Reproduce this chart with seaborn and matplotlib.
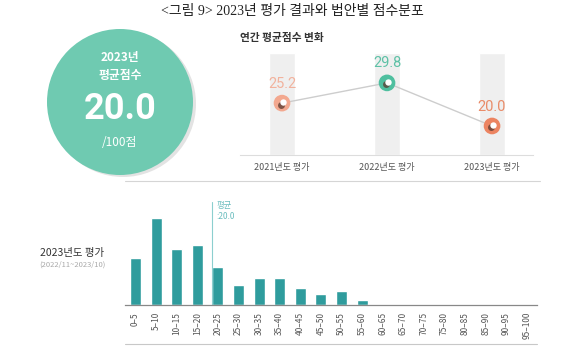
import matplotlib
matplotlib.use('Agg')
import matplotlib.pyplot as plt
import matplotlib.transforms as mtransforms
from matplotlib.patches import Ellipse
from matplotlib.lines import Line2D
import seaborn as sns
import pandas as pd

# data
years = ['2021년도 평가', '2022년도 평가', '2023년도 평가']
avg_scores = [25.2, 29.8, 20.0]
point_colors = ['#F3A88F', '#4FBF9F', '#EC8461']
label_colors = ['#F2B29D', '#5EC1A6', '#E98B68']

score_bins = ['0–5', '5–10', '10–15', '15–20', '20–25', '25–30', '30–35',
              '35–40', '40–45', '45–50', '50–55', '55–60', '60–65', '65–70',
              '70–75', '75–80', '80–85', '85–90', '90–95', '95–100']
# relative bar heights (no axis in the original)
bin_heights = [47, 87, 56, 60, 38, 20, 27, 27, 17, 11, 14, 5,
               0, 0, 0, 0, 0, 0, 0, 0]
mean_score = 20.0

sns.set_theme(style='white')
plt.rcParams['font.family'] = ['Noto Sans CJK KR', 'DejaVu Sans']

W, H = 580, 352
fig = plt.figure(figsize=(W / 100, H / 100), dpi=100)


def fx(x):
    return x / W


def fy(y):
    return 1 - y / H


# title
fig.text(fx(292), fy(12), '<그림 9> 2023년 평가 결과와 법안별 점수분포',
         ha='center', va='center', fontsize=10, color='#222',
         family=['Liberation Serif', 'Noto Sans CJK KR'])

# big circle with the average
bg = fig.add_axes([0, 0, 1, 1], zorder=0)
bg.set_xlim(0, W)
bg.set_ylim(H, 0)
bg.axis('off')
bg.add_patch(Ellipse((123, 104), 146, 146, color='#E3E3E3', lw=0))
bg.add_patch(Ellipse((120, 102), 146, 146, color='#6FCAB1', lw=0))
bg.text(120, 58, '2023년', ha='center', va='center', fontsize=8.5,
        color='white', fontweight='bold')
bg.text(120, 76, '평균점수', ha='center', va='center', fontsize=8.5,
        color='white', fontweight='bold')
bg.text(120, 109, f'{avg_scores[-1]:.1f}', ha='center', va='center',
        fontsize=26, color='white', fontweight='bold', family='Roboto')
bg.text(120, 143, '/100점', ha='center', va='center', fontsize=8.5,
        color='white')

# separator lines
bg.add_line(Line2D([125, 540], [181, 181], color='#D5D5D5', lw=0.8))
bg.add_line(Line2D([125, 537], [344, 344], color='#C8C8C8', lw=0.8))

# left label of the distribution
bg.text(72, 253, '2023년도 평가', ha='center', va='center', fontsize=7.5,
        color='#333', fontweight='medium')
bg.text(72, 265, '(2022/11~2023/10)', ha='center', va='center',
        fontsize=5.5, color='#AAAAAA')

# yearly average line chart
ax1 = fig.add_axes([fx(240), fy(155), 293 / W, 102 / H], zorder=1)
ax1.patch.set_alpha(0)
pos = list(range(len(years)))
ymin, ymax = 13.4, 36.6
ax1.bar(pos, ymax - ymin, bottom=ymin, width=0.24, color='#EFEFEF', zorder=1)
df_line = pd.DataFrame({'pos': pos, 'score': avg_scores})
sns.lineplot(data=df_line, x='pos', y='score', color='#CDCDCD', lw=1,
             ax=ax1, zorder=2)

shadow_tr = mtransforms.offset_copy(ax1.transData, fig=fig, x=-1.0, y=-1.0,
                                    units='points')
hole_tr = mtransforms.offset_copy(ax1.transData, fig=fig, x=0.6, y=0.6,
                                  units='points')
ax1.scatter(pos, avg_scores, s=12 ** 2, color=point_colors, lw=0, zorder=3)
ax1.scatter(pos, avg_scores, s=5.0 ** 2, color='#5A3A30', alpha=0.75, lw=0,
            transform=shadow_tr, zorder=4)
ax1.scatter(pos, avg_scores, s=4.6 ** 2, color='white', lw=0,
            transform=hole_tr, zorder=5)
for p, v, c in zip(pos, avg_scores, label_colors):
    ax1.annotate(f'{v:.1f}', (p, v), xytext=(0, 14), textcoords='offset points',
                 ha='center', va='center', fontsize=10.5, color=c,
                 family=['Liberation Sans Narrow', 'Roboto'])

ax1.set_xlim(-0.4, 2.39)
ax1.set_ylim(ymin, ymax)
ax1.set_xticks(pos)
ax1.set_xticklabels(years)
ax1.set_yticks([])
ax1.set_xlabel('')
ax1.set_ylabel('')
ax1.tick_params(axis='x', length=0, pad=6, labelsize=6.5, labelcolor='#555')
for s in ['top', 'left', 'right']:
    ax1.spines[s].set_visible(False)
ax1.spines['bottom'].set_color('#DDDDDD')
ax1.spines['bottom'].set_linewidth(0.8)
fig.text(fx(240), fy(38), '연간 평균점수 변화', ha='left', va='center',
         fontsize=7.7, color='#333', fontweight='bold')

# score distribution bar chart
ax2 = fig.add_axes([fx(125), fy(305), 412 / W, 103 / H], zorder=1)
ax2.patch.set_alpha(0)
sns.barplot(x=score_bins, y=bin_heights, color='#2F9C9D', saturation=1,
            width=0.53, ax=ax2)
ax2.set_xlim(-0.51, 19.49)
ax2.set_ylim(0, 103)
mean_x = mean_score / 5 - 0.53 / 2
ax2.axvline(mean_x, color='#8CCFCF', lw=0.8)
ax2.text(mean_x + 0.2, 0.97, '평균', transform=ax2.get_xaxis_transform(),
         ha='left', va='center', fontsize=6, color='#6ABDBE')
ax2.text(mean_x + 0.2, 0.86, f':{mean_score:.1f}',
         transform=ax2.get_xaxis_transform(), ha='left', va='center',
         fontsize=6, color='#6ABDBE')
ax2.set_yticks([])
ax2.set_xlabel('')
ax2.set_ylabel('')
ax2.tick_params(axis='x', length=0, pad=5, labelsize=6, labelcolor='#555',
                rotation=90)
for s in ['top', 'left', 'right']:
    ax2.spines[s].set_visible(False)
ax2.spines['bottom'].set_color('#888888')
ax2.spines['bottom'].set_linewidth(0.9)

fig.savefig('out.png', dpi=100)
